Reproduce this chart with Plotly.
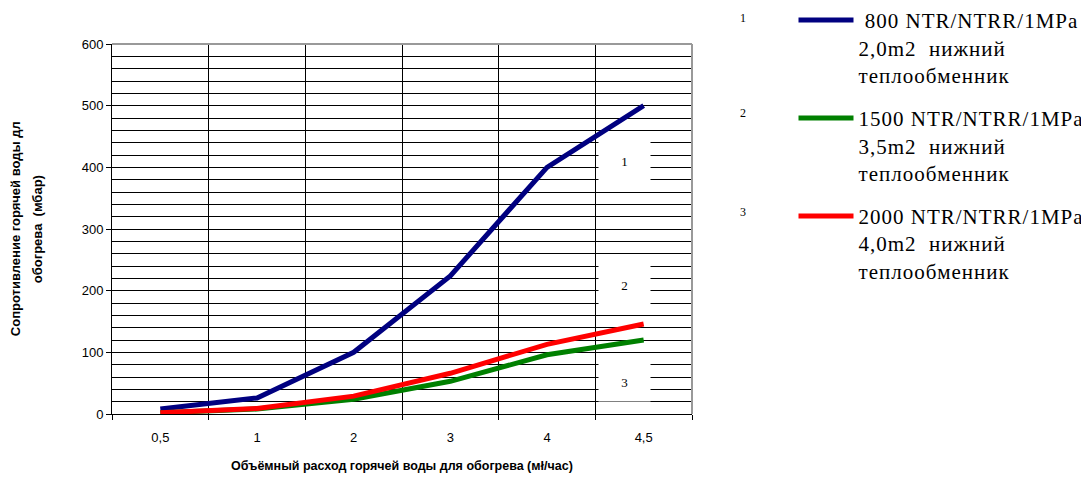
import plotly.graph_objects as go

# flow of heating water, m3/h (category labels as printed)
flow = ["0,5", "1", "2", "3", "4", "4,5"]

# pressure loss, mbar
loss_800 = [8, 26, 100, 224, 400, 500]
loss_1500 = [2, 8, 24, 53, 96, 120]
loss_2000 = [2, 9, 29, 66, 113, 146]

names = [
    " 800 NTR/NTRR/1MPa<br>2,0m2  нижний<br>теплообменник",
    "1500 NTR/NTRR/1MPa<br>3,5m2  нижний<br>теплообменник",
    "2000 NTR/NTRR/1MPa<br>4,0m2  нижний<br>теплообменник",
]
colors = ["#000080", "#008000", "#ff0000"]
series = [loss_800, loss_1500, loss_2000]

# in-plot marker boxes: (category position, value, label)
box_pos = [4.8, 4.8, 4.8]
box_val = [410, 210, 52]
box_txt = ["1", "2", "3"]

SPACED = '<span style="letter-spacing:1px">{}</span>'

fig = go.Figure()
for i, (vals, name, col) in enumerate(zip(series, names, colors)):
    fig.add_trace(
        go.Scatter(
            x=flow,
            y=vals,
            mode="lines",
            name="<br>".join(SPACED.format(p) for p in name.split("<br>")),
            line=dict(color=col, width=5),
            legendgroup=str(i),
        )
    )

for xp, yv, t in zip(box_pos, box_val, box_txt):
    fig.add_annotation(
        x=xp, y=yv, xref="x", yref="y", text=t, showarrow=False,
        width=49, height=36, bgcolor="white",
        font=dict(family="Liberation Serif", size=13, color="#000"),
    )

# numbers left of the legend
for t, yp in zip(["1", "2", "3"], [1.070, 0.814, 0.546]):
    fig.add_annotation(
        x=1.088, y=yp, xref="paper", yref="paper", text=t, showarrow=False,
        xanchor="center", yanchor="middle",
        font=dict(family="Liberation Serif", size=12, color="#000"),
    )

# axis titles
title_font = dict(family="Liberation Sans", size=12.5, color="#000")
ytitle_font = dict(family="Liberation Sans", size=13, color="#000")
fig.add_annotation(
    x=-0.167, y=0.5, xref="paper", yref="paper", textangle=-90, showarrow=False,
    xanchor="center", yanchor="middle",
    text="<b>Сопротивление горячей воды дл</b>", font=ytitle_font,
)
fig.add_annotation(
    x=-0.129, y=0.5, xref="paper", yref="paper", textangle=-90, showarrow=False,
    xanchor="center", yanchor="middle",
    text="<b>обогрева  (мбар)</b>", font=ytitle_font,
)
fig.add_annotation(
    x=0.5, y=-0.1405, xref="paper", yref="paper", showarrow=False,
    xanchor="center", yanchor="middle",
    text="<b>Объёмный расход горячей воды для обогрева (мł/час)</b>", font=title_font,
)

# grey frame on top and right of the plot area
fig.add_shape(type="line", xref="paper", yref="paper", x0=0, x1=1, y0=1, y1=1,
              line=dict(color="#999999", width=2))
fig.add_shape(type="line", xref="paper", yref="paper", x0=1, x1=1, y0=0, y1=1,
              line=dict(color="#999999", width=2))

# page body has an 8px margin, so the figure is sized to fit the window
fig.update_layout(
    width=1081,
    height=469,
    template="none",
    paper_bgcolor="white",
    plot_bgcolor="white",
    margin={"l": 104, "r": 397, "t": 36, "b": 63, "autoexpand": False},
    font=dict(family="Liberation Sans", size=13, color="#000"),
    legend=dict(
        x=1.175, y=1.119, xanchor="left", yanchor="top",
        font=dict(family="Liberation Serif", size=21, color="#000"),
        itemwidth=55, valign="top", tracegroupgap=13,
        bgcolor="rgba(0,0,0,0)", maxheight=469,
    ),
    showlegend=True,
)

fig.update_xaxes(
    type="category",
    range=[-0.5, 5.5],
    tickson="boundaries",
    ticks="outside",
    ticklen=5,
    tickcolor="#000",
    showgrid=True,
    gridcolor="#000",
    gridwidth=1,
    showline=True,
    linecolor="#000",
    linewidth=1,
    ticklabelstandoff=11,
    tickfont=dict(size=13),
    automargin=False,
)

fig.update_yaxes(
    range=[0, 600],
    dtick=100,
    ticks="outside",
    ticklen=5,
    tickcolor="#000",
    showgrid=True,
    gridcolor="#000",
    gridwidth=1,
    zeroline=False,
    showline=True,
    linecolor="#000",
    linewidth=1,
    minor=dict(dtick=20, showgrid=True, gridcolor="#000", gridwidth=1),
    tickfont=dict(size=13),
    automargin=False,
)

fig.write_html("out.html")
